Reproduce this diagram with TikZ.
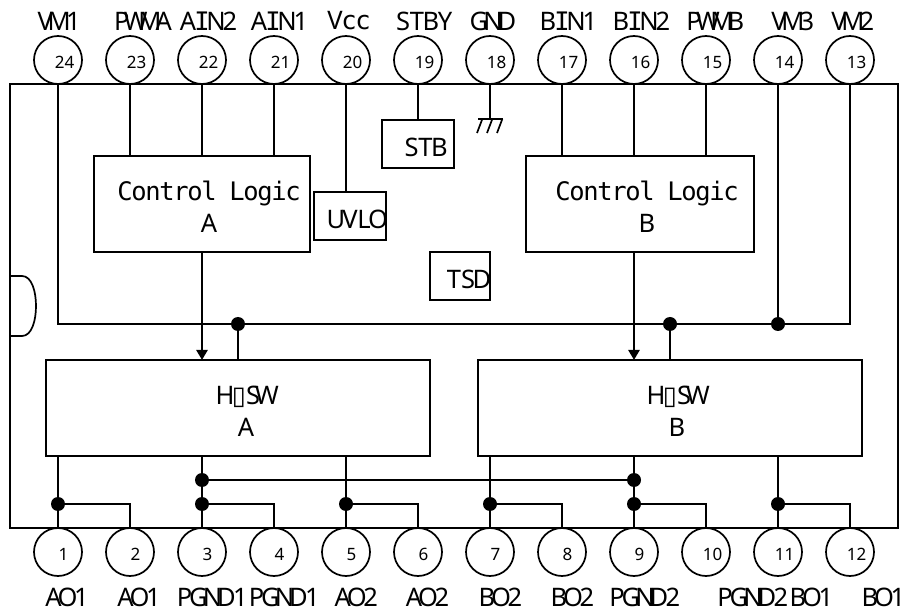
\documentclass[tikz,border=0pt]{standalone}
\usepackage{fontspec}
\setmainfont{Noto Sans}
\setmonofont{DejaVu Sans Mono}
\newfontfamily\tofufont{DejaVu Sans}
\usepackage{tikz}
\usetikzlibrary{shapes.geometric, arrows.meta}
\makeatletter
\newcommand{\mono}[1]{\@tfor\ch:=#1\do{\makebox[14pt][c]{\ch}}}
\makeatother
\newcommand{\bigtext}{\fontsize{25.5}{32}\selectfont}
\newcommand{\serifi}{{\ttfamily I}}
\newcommand{\ctrltext}{{\ttfamily\mono{Control}\hspace{14pt}\mono{Logic}}}
\newcommand{\hswtext}{\mono{H{\tofufont\char"25AF}SW}}
\tikzstyle{wire} = [line width=1.7pt]
\tikzstyle{arrow} = [-{Triangle[length=10pt,width=11pt]}, line width=2.6pt]
\tikzstyle{block} = [rectangle, draw, line width=1.7pt, inner sep=0pt, outer sep=0pt]
\tikzstyle{pad} = [circle, draw, line width=1.7pt, minimum size=48pt, inner sep=0pt, outer sep=0pt]
\tikzstyle{padtop} = [pad, label={[font=\fontsize{17}{17}\selectfont, xshift=6.7pt, yshift=-2.7pt]center:#1}]
\tikzstyle{padbot} = [pad, label={[font=\fontsize{17}{17}\selectfont, xshift=5.5pt, yshift=-2.7pt]center:#1}]
\tikzstyle{dot} = [circle, fill=black, minimum size=14pt, inner sep=0pt]
\tikzstyle{lbl} = [font=\bigtext, inner sep=0pt, anchor=center]

\begin{document}
\begin{tikzpicture}[x=1pt, y=-1pt]
\useasboundingbox (0,0) rectangle (906,612);

\node (chip)  [block, minimum width=888pt, minimum height=444pt] at (454,306) {};

\node (ctrla) [block, minimum width=216pt, minimum height=96pt] at (202,204) {};
\node (ctrlb) [block, minimum width=228pt, minimum height=96pt] at (640,204) {};
\node (uvlo)  [block, minimum width=72pt, minimum height=48pt] at (350,216) {};
\node (stb)   [block, minimum width=72pt, minimum height=48pt] at (418,144) {};
\node (tsd)   [block, minimum width=60pt, minimum height=48pt] at (460,276) {};
\node (hswa)  [block, minimum width=384pt, minimum height=96pt] at (238,408) {};
\node (hswb)  [block, minimum width=384pt, minimum height=96pt] at (670,408) {};

\node (tctrla) [lbl, align=center] at (209,207) {\ctrltext\\\mono{A}};
\node (tctrlb) [lbl, align=center] at (647,207) {\ctrltext\\\mono{B}};
\node (tuvlo)  [lbl] at (357,219) {\mono{UVLO}};
\node (tstb)   [lbl] at (425.5,147) {\mono{STB}};
\node (ttsd)   [lbl] at (468,279) {\mono{TSD}};
\node (thswa)  [lbl, align=center] at (246,411) {\hswtext\\\mono{A}};
\node (thswb)  [lbl, align=center] at (677,411) {\hswtext\\\mono{B}};

\node (p24) [padtop=24] at (58,60) {};
\node (p23) [padtop=23] at (130,60) {};
\node (p22) [padtop=22] at (202,60) {};
\node (p21) [padtop=21] at (274,60) {};
\node (p20) [padtop=20] at (346,60) {};
\node (p19) [padtop=19] at (418,60) {};
\node (p18) [padtop=18] at (490,60) {};
\node (p17) [padtop=17] at (562,60) {};
\node (p16) [padtop=16] at (634,60) {};
\node (p15) [padtop=15] at (706,60) {};
\node (p14) [padtop=14] at (778,60) {};
\node (p13) [padtop=13] at (850,60) {};

\node (p1)  [padbot=1] at (58,552) {};
\node (p2)  [padbot=2] at (130,552) {};
\node (p3)  [padbot=3] at (202,552) {};
\node (p4)  [padbot=4] at (274,552) {};
\node (p5)  [padbot=5] at (346,552) {};
\node (p6)  [padbot=6] at (418,552) {};
\node (p7)  [padbot=7] at (490,552) {};
\node (p8)  [padbot=8] at (562,552) {};
\node (p9)  [padbot=9] at (634,552) {};
\node (p10) [padtop=10] at (706,552) {};
\node (p11) [padtop=11] at (778,552) {};
\node (p12) [padtop=12] at (850,552) {};

\node (n24) [lbl] at (59.3,21) {\mono{VM1}};
\node (n23) [lbl] at (142.8,21) {\mono{PWMA}};
\node (n22) [lbl] at (209,21) {\mono{A{\serifi}N2}};
\node (n21) [lbl] at (280,21) {\mono{A{\serifi}N1}};
\node (n20) [lbl] at (349,21) {\mono{V{\ttfamily c}{\ttfamily c}}};
\node (n19) [lbl] at (424,21) {\mono{STBY}};
\node (n18) [lbl] at (493,21) {\mono{GND}};
\node (n17) [lbl] at (569,21) {\mono{B{\serifi}N1}};
\node (n16) [lbl] at (642,21) {\mono{B{\serifi}N2}};
\node (n15) [lbl] at (715,21) {\mono{PWMB}};
\node (n14) [lbl] at (793,21) {\mono{VM3}};
\node (n13) [lbl] at (853,21) {\mono{VM2}};

\node (n1)  [lbl] at (67.5,597) {\mono{AO1}};
\node (n2)  [lbl] at (139.5,597) {\mono{AO1}};
\node (n3)  [lbl] at (212.5,597) {\mono{PGND1}};
\node (n4)  [lbl] at (284.5,597) {\mono{PGND1}};
\node (n5)  [lbl] at (356.7,597) {\mono{AO2}};
\node (n6)  [lbl] at (428,597) {\mono{AO2}};
\node (n7)  [lbl] at (501,597) {\mono{BO2}};
\node (n8)  [lbl] at (573,597) {\mono{BO2}};
\node (n9)  [lbl] at (645,597) {\mono{PGND2}};
\node (n10) [lbl] at (753,597) {\mono{PGND2}};
\node (n11) [lbl] at (812,597) {\mono{BO1}};
\node (n12) [lbl] at (884,597) {\mono{BO1}};

% junctions
\node (jbusa) [dot] at (238,324) {};
\node (jbusb) [dot] at (670,324) {};
\node (jbusc) [dot] at (778,324) {};
\node (jout1) [dot] at (58,504) {};
\node (jout3) [dot] at (202,504) {};
\node (jout5) [dot] at (346,504) {};
\node (jout7) [dot] at (490,504) {};
\node (jout9) [dot] at (634,504) {};
\node (jout11) [dot] at (778,504) {};
\node (jgnda) [dot] at (202,480) {};
\node (jgndb) [dot] at (634,480) {};
\coordinate (busl) at (58,324);
\coordinate (busr) at (850,324);
\coordinate (gnd) at (490,119);

\draw[wire] (p23) -- (p23 |- ctrla.north);
\draw[wire] (p22) -- (p22 |- ctrla.north);
\draw[wire] (p21) -- (p21 |- ctrla.north);
\draw[wire] (p20) -- (p20 |- uvlo.north);
\draw[wire] (p19) -- (p19 |- stb.north);
\draw[wire] (p18) -- (gnd);
\draw[wire] (p17) -- (p17 |- ctrlb.north);
\draw[wire] (p16) -- (p16 |- ctrlb.north);
\draw[wire] (p15) -- (p15 |- ctrlb.north);

\draw[wire] (p24) -- (busl) -- (busr) -- (p13);
\draw[wire] (p14) -- (jbusc);
\draw[wire] (jbusa) -- (jbusa |- hswa.north);
\draw[wire] (jbusb) -- (jbusb |- hswb.north);

\draw[arrow] (ctrla.south -| p22) -- (p22 |- hswa.north);
\draw[arrow] (ctrlb.south -| p16) -- (p16 |- hswb.north);

\draw[wire] (hswa.south -| p1) -- (p1);
\draw[wire] (hswa.south -| p3) -- (p3);
\draw[wire] (hswa.south -| p5) -- (p5);
\draw[wire] (hswb.south -| p7) -- (p7);
\draw[wire] (hswb.south -| p9) -- (p9);
\draw[wire] (hswb.south -| p11) -- (p11);

\draw[wire] (jgnda) -- (jgndb);
\draw[wire] (jout1) -| (p2);
\draw[wire] (jout3) -| (p4);
\draw[wire] (jout5) -| (p6);
\draw[wire] (jout7) -| (p8);
\draw[wire] (jout9) -| (p10);
\draw[wire] (jout11) -| (p12);

% ground mark
\draw[line width=2.5pt] (478,119) -- (502.5,119);
\draw[wire] (482.3,119) -- (477,133);
\draw[wire] (492.3,119) -- (487,133);
\draw[wire] (502.3,119) -- (497,133);

% notch
\draw[wire] (11,276) -- (22,276) .. controls (32,276) and (36,292) .. (36,306) .. controls (36,320) and (32,336) .. (22,336) -- (11,336);

\end{tikzpicture}
\end{document}
